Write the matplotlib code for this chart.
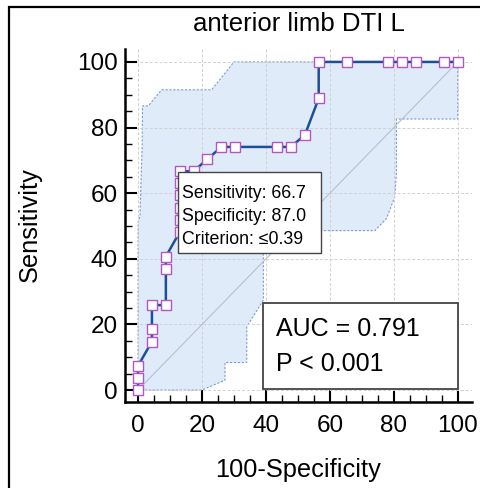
import numpy as np
import matplotlib.pyplot as plt
from matplotlib.patches import Rectangle
from matplotlib.ticker import MultipleLocator

plt.rcParams['font.family'] = ['Liberation Sans', 'DejaVu Sans']

# ROC curve points (100-Specificity, Sensitivity)
fpr = [0, 0, 0, 4.35, 4.35, 4.35, 8.7, 8.7, 8.7, 13.0, 13.0, 13.0, 13.0, 13.0, 13.0,
       17.4, 21.7, 26.1, 30.4, 43.5, 47.8, 52.2, 56.5, 56.5, 65.2, 78.3, 82.6, 87.0, 95.7, 100]
tpr = [0, 3.7, 7.4, 14.8, 18.5, 25.9, 25.9, 37.0, 40.7, 48.1, 51.9, 55.6, 59.3, 63.0, 66.7,
       66.7, 70.4, 74.1, 74.1, 74.1, 74.1, 77.8, 88.9, 100, 100, 100, 100, 100, 100, 100]

# 95% confidence band
upper_x = [0, 0, 0.6, 1.3, 1.4, 3.2, 7.4, 23.0, 29.3, 29.8, 100]
upper_y = [0, 51, 53, 75, 86.6, 86.6, 91.5, 91.5, 99.1, 100, 100]
lower_x = [0, 19.9, 27.2, 27.2, 34.0, 34.0, 39.2, 39.2, 74.1, 77.7, 80.3, 80.8, 80.8, 100, 100]
lower_y = [0, 0, 3.0, 8.4, 8.4, 19.3, 27.4, 48.6, 48.6, 52.3, 58.9, 66.1, 82.6, 82.6, 100]

crit_lines = ["Sensitivity: 66.7", "Specificity: 87.0", "Criterion: \u22640.39"]
auc_lines = ["AUC = 0.791", "P < 0.001"]

fig = plt.figure(figsize=(4.81, 4.88), dpi=100)
ax = fig.add_axes([0.26, 0.176, 0.721, 0.724])

band_x = upper_x + lower_x[::-1]
band_y = upper_y + lower_y[::-1]
ax.fill(band_x, band_y, facecolor='#e0ebfa', edgecolor='#7b9dcc', lw=0.8,
        ls=(0, (2, 1.5)), zorder=1)
ax.plot([0, 100], [0, 100], color='#b4bfd0', lw=0.8, zorder=1.6)
ax.plot(fpr, tpr, color='#1c4f96', lw=1.8, marker='s', ms=6.5, mfc='white',
        mec='#b455c4', mew=1.0, zorder=3)

ax.set_xlim(-4.06, 104.4)
ax.set_ylim(-3.66, 104)
ax.xaxis.set_major_locator(MultipleLocator(20))
ax.yaxis.set_major_locator(MultipleLocator(20))
ax.xaxis.set_minor_locator(MultipleLocator(5))
ax.yaxis.set_minor_locator(MultipleLocator(5))
ax.set_axisbelow('line')
ax.grid(True, which='major', color='#d0d0d0', lw=0.7, ls=(0, (3, 2)))
for s in ['top', 'right']:
    ax.spines[s].set_visible(False)
for s in ['left', 'bottom']:
    ax.spines[s].set_linewidth(1.8)
ax.tick_params(which='major', direction='in', length=8.5, width=1.5, labelsize=17.5)
ax.tick_params(which='minor', direction='in', length=5, width=1.0)
ax.tick_params(axis='y', which='major', pad=5)
ax.tick_params(axis='x', which='major', pad=9)

# criterion box
ax.add_patch(Rectangle((12.5, 41.8), 44.6, 24.8, facecolor='white', edgecolor='#444444',
                       lw=1.0, zorder=4))
for i, t in enumerate(crit_lines):
    ax.text(13.7, 59.8 - i * 6.9, t, fontsize=12.8, va='center', ha='left', zorder=5)

# AUC box
ax.add_patch(Rectangle((39.0, 0.2), 61.1, 26.2, facecolor='white', edgecolor='#444444',
                       lw=1.3, zorder=4))
for i, t in enumerate(auc_lines):
    ax.text(43.1, 18.6 - i * 10.7, t, fontsize=18, va='center', ha='left', zorder=5)

fig.text(299 / 481, 1 - 24 / 488, "anterior limb DTI L", fontsize=18.5, ha='center', va='center')
fig.text(298 / 481, 1 - 470 / 488, "100-Specificity", fontsize=18.3, ha='center', va='center')
fig.text(30 / 481, 1 - 225 / 488, "Sensitivity", fontsize=18.3, ha='center', va='center',
         rotation=90)

# outer frame
fig.add_artist(Rectangle((9 / 481, -0.1), 1.2, 1 - 7 / 488 + 0.1, transform=fig.transFigure,
                         fill=False, edgecolor='black', lw=1.6))

fig.savefig('out.png', dpi=100)
